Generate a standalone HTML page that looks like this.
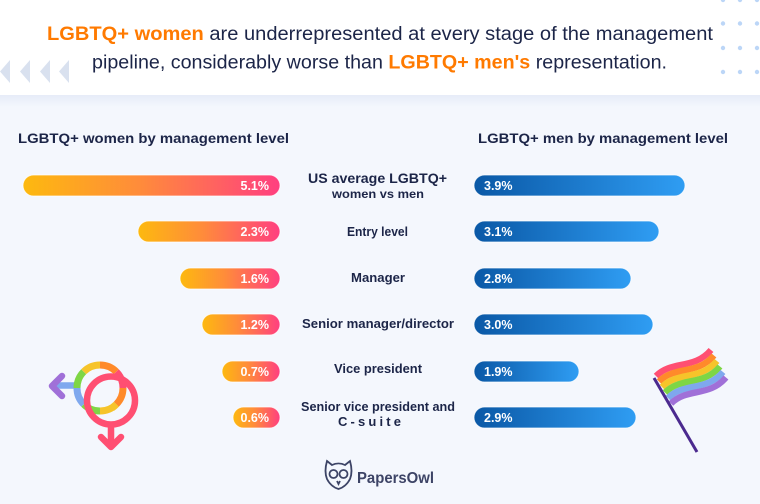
<!DOCTYPE html>
<html><head><meta charset="utf-8"><style>
html,body{margin:0;padding:0;background:#f4f7fd;}
svg{display:block;}
text{font-family:"Liberation Sans",sans-serif;}
</style></head><body>
<svg width="760" height="504" viewBox="0 0 760 504" xmlns="http://www.w3.org/2000/svg">
<defs>
<linearGradient id="wg" x1="0" y1="0" x2="1" y2="0">
<stop offset="0" stop-color="#fdb90f"/><stop offset="0.45" stop-color="#ff8c3a"/><stop offset="1" stop-color="#ff3f80"/>
</linearGradient>
<linearGradient id="mg" x1="0" y1="0" x2="1" y2="0">
<stop offset="0" stop-color="#0a58a6"/><stop offset="1" stop-color="#2f9df3"/>
</linearGradient>
<linearGradient id="sh" x1="0" y1="0" x2="0" y2="1">
<stop offset="0" stop-color="#e6ebf8"/><stop offset="1" stop-color="#f4f7fd"/>
</linearGradient>
</defs>
<rect width="760" height="504" fill="#f4f7fd"/>
<rect x="0" y="95" width="760" height="12" fill="url(#sh)"/>
<rect x="0" y="0" width="760" height="95" fill="#ffffff"/>
<!-- triangles -->
<g fill="#d9e1ef">
<polygon points="0,71.5 10,60 10,83"/>
<polygon points="20,71.5 30,60 30,83"/>
<polygon points="40,71.5 50,60 50,83"/>
<polygon points="59,71.5 69,60 69,83"/>
</g>
<!-- dots -->
<g fill="#bcd6f7">
<circle cx="723" cy="0" r="2.2"/><circle cx="740" cy="0" r="2.2"/><circle cx="757" cy="0" r="2.2"/>
<circle cx="723" cy="23.5" r="2.2"/><circle cx="740" cy="23.5" r="2.2"/><circle cx="757" cy="23.5" r="2.2"/>
<circle cx="723" cy="48" r="2.2"/><circle cx="740" cy="48" r="2.2"/><circle cx="757" cy="48" r="2.2"/>
<circle cx="723" cy="72" r="2.2"/><circle cx="740" cy="72" r="2.2"/><circle cx="757" cy="72" r="2.2"/>
</g>
<!-- title -->
<text x="47" y="40" font-size="19" fill="#1c2548" textLength="666" lengthAdjust="spacingAndGlyphs"><tspan fill="#ff7a00" font-weight="bold">LGBTQ+ women</tspan> are underrepresented at every stage of the management</text>
<text x="92" y="68.5" font-size="19" fill="#1c2548" textLength="575" lengthAdjust="spacingAndGlyphs">pipeline, considerably worse than <tspan fill="#ff7a00" font-weight="bold">LGBTQ+ men's</tspan> representation.</text>
<!-- headings -->
<text x="18" y="143" font-size="14" font-weight="bold" fill="#1c2548" textLength="271" lengthAdjust="spacingAndGlyphs">LGBTQ+ women by management level</text>
<text x="478" y="143" font-size="14" font-weight="bold" fill="#1c2548" textLength="250" lengthAdjust="spacingAndGlyphs">LGBTQ+ men by management level</text>
<!-- women bars -->
<g stroke="#ffffff" stroke-opacity="0.7" stroke-width="1">
<rect x="23" y="175" width="257" height="21" rx="10.5" fill="url(#wg)"/>
<rect x="138" y="221" width="142" height="21" rx="10.5" fill="url(#wg)"/>
<rect x="180" y="268" width="100" height="21" rx="10.5" fill="url(#wg)"/>
<rect x="202" y="314" width="78" height="21" rx="10.5" fill="url(#wg)"/>
<rect x="222" y="361" width="58" height="21" rx="10.5" fill="url(#wg)"/>
<rect x="233" y="407" width="47" height="21" rx="10.5" fill="url(#wg)"/>
</g>
<g font-size="12.5" font-weight="bold" fill="#ffffff" text-anchor="end">
<text x="269" y="190">5.1%</text>
<text x="269" y="236">2.3%</text>
<text x="269" y="283">1.6%</text>
<text x="269" y="329">1.2%</text>
<text x="269" y="376">0.7%</text>
<text x="269" y="422">0.6%</text>
</g>
<!-- men bars -->
<g stroke="#ffffff" stroke-opacity="0.7" stroke-width="1">
<rect x="474" y="175" width="211" height="21" rx="10.5" fill="url(#mg)"/>
<rect x="474" y="221" width="185" height="21" rx="10.5" fill="url(#mg)"/>
<rect x="474" y="268" width="157" height="21" rx="10.5" fill="url(#mg)"/>
<rect x="474" y="314" width="179" height="21" rx="10.5" fill="url(#mg)"/>
<rect x="474" y="361" width="105" height="21" rx="10.5" fill="url(#mg)"/>
<rect x="474" y="407" width="162" height="21" rx="10.5" fill="url(#mg)"/>
</g>
<g font-size="12.5" font-weight="bold" fill="#ffffff">
<text x="484" y="190">3.9%</text>
<text x="484" y="236">3.1%</text>
<text x="484" y="283">2.8%</text>
<text x="484" y="329">3.0%</text>
<text x="484" y="376">1.9%</text>
<text x="484" y="422">2.9%</text>
</g>
<!-- labels -->
<g fill="#1c2548" font-weight="bold">
<text x="308" y="183" font-size="14" textLength="139" lengthAdjust="spacingAndGlyphs">US average LGBTQ+</text>
<text x="332" y="198" font-size="12" textLength="92" lengthAdjust="spacingAndGlyphs">women vs men</text>
<text x="347" y="236" font-size="12.5" textLength="61" lengthAdjust="spacingAndGlyphs">Entry level</text>
<text x="351" y="282" font-size="12.5" textLength="54" lengthAdjust="spacingAndGlyphs">Manager</text>
<text x="302" y="328" font-size="12.5" textLength="152" lengthAdjust="spacingAndGlyphs">Senior manager/director</text>
<text x="334" y="373" font-size="12.5" textLength="88" lengthAdjust="spacingAndGlyphs">Vice president</text>
<text x="301" y="411" font-size="12.5" textLength="154" lengthAdjust="spacingAndGlyphs">Senior vice president and</text>
<text x="338" y="426" font-size="13" textLength="63" lengthAdjust="spacing">C-suite</text>
</g>
<!-- gender symbol -->
<g fill="none" stroke-linecap="round" stroke-linejoin="round">
<line x1="54" y1="385.5" x2="75" y2="385.5" stroke="#7fa8ee" stroke-width="6.5"/>
<polyline points="62,376 52,386 62,396" stroke="#a070d8" stroke-width="6.5"/>
<g stroke-width="7" stroke-linecap="butt">
<path d="M123,388 A23,23 0 0 1 116.3,404.3" stroke="#ff8a2a"/>
<path d="M116.3,404.3 A23,23 0 0 1 100,411" stroke="#f6c42a"/>
<path d="M100,411 A23,23 0 0 1 83.7,404.3" stroke="#7ed645"/>
<path d="M83.7,404.3 A23,23 0 0 1 77,388" stroke="#7fa8ee"/>
<path d="M77,388 A23,23 0 0 1 83.7,371.7" stroke="#7ed645"/>
<path d="M83.7,371.7 A23,23 0 0 1 100,365" stroke="#f6c42a"/>
<path d="M100,365 A23,23 0 0 1 116.3,371.7" stroke="#ff8a2a"/>
<path d="M116.3,371.7 A23,23 0 0 1 123,388" stroke="#ff4f72"/>
</g>
<circle cx="111" cy="400.5" r="24" stroke="#ff4f72" stroke-width="6.5"/>
<line x1="111" y1="425" x2="111" y2="446" stroke="#ff4f72" stroke-width="6.5"/>
<polyline points="101,437 111,447 121,437" stroke="#ff4f72" stroke-width="6.5"/>
<path d="M116.3,404.3 A23,23 0 0 1 112,408" stroke="#f6c42a" stroke-width="7" stroke-linecap="butt"/>
</g>
<!-- flag -->
<g fill="none" stroke-width="6.3" stroke-linecap="butt">
<path d="M656,376 C672,360 694,370 711,350" stroke="#ff4f72"/>
<path d="M659,381.5 C675,365.5 697,375.5 714,355.5" stroke="#ff8a2a"/>
<path d="M662,387 C678,371 700,381 717,361" stroke="#f6c42a"/>
<path d="M665,392.5 C681,376.5 703,386.5 720,366.5" stroke="#7ed645"/>
<path d="M668,398 C684,382 706,392 723,372" stroke="#7fa8ee"/>
<path d="M671,403.5 C687,387.5 709,397.5 726,377.5" stroke="#a070d8"/>
</g>
<line x1="654" y1="378" x2="697" y2="452" stroke="#4b2a8f" stroke-width="3"/>
<!-- logo -->
<g fill="none" stroke="#3d4466" stroke-width="1.8">
<path d="M327,461 L332,465 C336,463 341,463 345,465 L350,461 C352,468 352,474 350,479 C347,485 342,488 338.5,489 C335,488 330,485 327,479 C325,474 325,468 327,461 Z"/>
<circle cx="333.5" cy="474" r="4"/>
<circle cx="343.5" cy="474" r="4"/>
<path d="M337,481 L338.5,484 L340,481"/>
</g>
<text x="357" y="483" font-size="16" font-weight="bold" fill="#3d4466" textLength="77" lengthAdjust="spacingAndGlyphs">PapersOwl</text>
</svg>
</body></html>
